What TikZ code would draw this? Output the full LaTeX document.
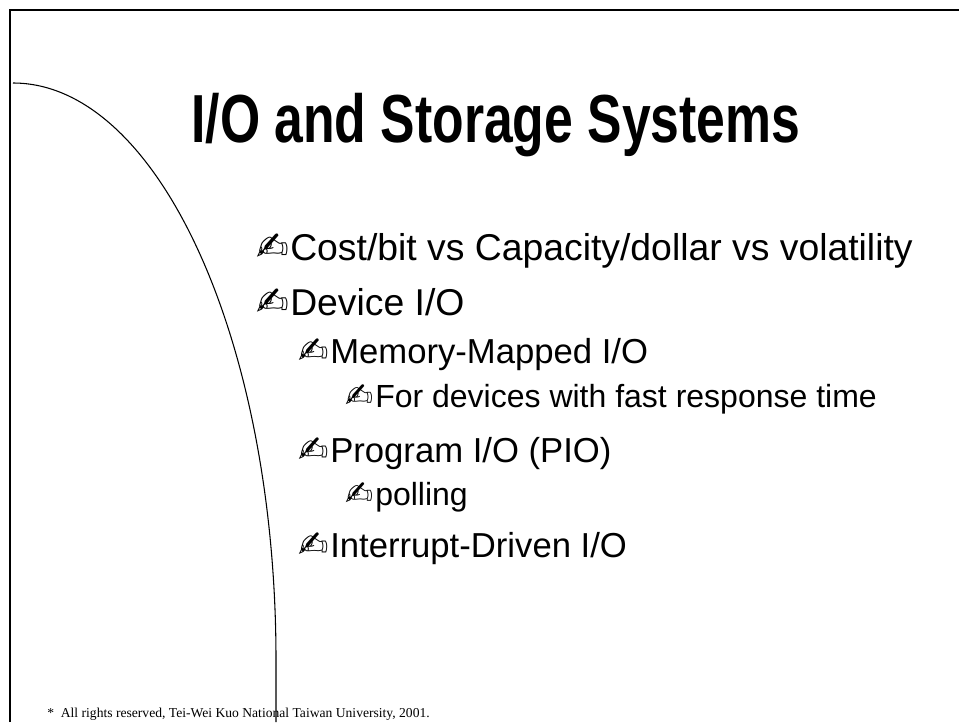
\documentclass[tikz,border=0pt]{standalone}
\usepackage{fontspec}
\setmainfont{Liberation Sans}
\newfontfamily\titlefont[FakeStretch=0.76]{Liberation Sans}
\newfontfamily\penfont{DejaVu Sans}
\newfontfamily\footfont{Liberation Serif}

\newcommand\pen{\llap{{\penfont\scalebox{1.05}{✍}}\kern1pt}}

\tikzset{
  item/.style={anchor=base west,inner sep=0pt},
  lvlone/.style={item,font=\fontsize{28}{32}\selectfont},
  lvltwo/.style={item,font=\fontsize{26}{30}\selectfont},
  lvlthree/.style={item,font=\fontsize{24}{28}\selectfont},
}

\begin{document}
\begin{tikzpicture}[x=0.75pt,y=-0.75pt]
  \useasboundingbox (0,0) rectangle (959,722);

  % Slide frame
  \draw[line width=1.2pt] (10,722) -- (10,10) -- (959,10);

  % Swoosh on the left
  \draw[line width=0.8pt]
    (13,83) arc[start angle=90,end angle=0,x radius=197.25pt,y radius=432.75pt]
    -- (276,722);

  % Title
  \node[item,font=\titlefont\bfseries\fontsize{51}{56}\selectfont]
    (title) at (191,142) {I/O and Storage Systems};

  % Bullets
  \node[lvlone] (costbit) at (290,260) {\pen Cost/bit vs Capacity/dollar vs volatility};
  \node[lvlone] (device) at (290,315) {\pen Device I/O};
  \node[lvltwo] (memmap) at (330,363) {\pen Memory-Mapped I/O};
  \node[lvlthree] (fastresp) at (375,407) {\pen For devices with fast response time};
  \node[lvltwo] (pio) at (330,462) {\pen Program I/O (PIO)};
  \node[lvlthree] (polling) at (375,505) {\pen polling};
  \node[lvltwo] (intr) at (330,557) {\pen Interrupt-Driven I/O};

  % Footer
  \node[item,font=\footfont\fontsize{10.2}{11}\selectfont]
    (footer) at (47,717) {*\ \ All rights reserved, Tei-Wei Kuo National Taiwan University, 2001.};
\end{tikzpicture}
\end{document}
